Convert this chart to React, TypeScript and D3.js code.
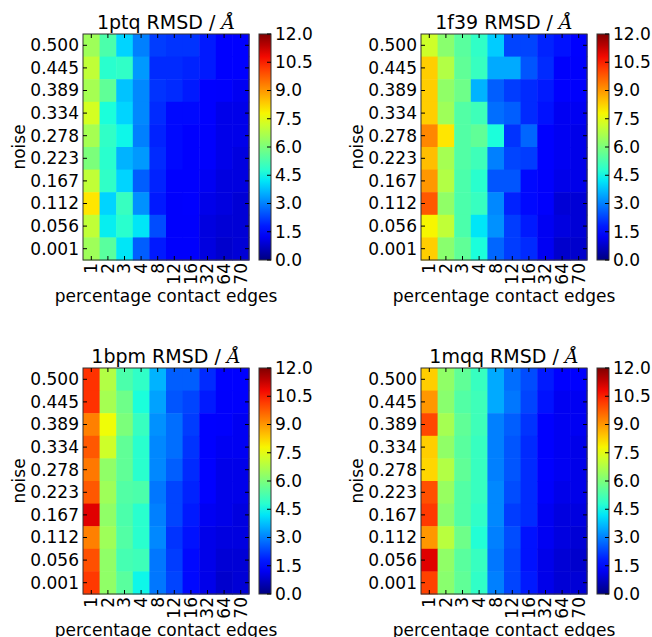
import React from 'react'
import * as d3 from 'd3'

const noiseLabels = ['0.500', '0.445', '0.389', '0.334', '0.278', '0.223', '0.167', '0.112', '0.056', '0.001']
const edgeLabels = ['1', '2', '3', '4', '8', '12', '16', '32', '64', '70']
const colorTicks = [0, 1.5, 3, 4.5, 6, 7.5, 9, 10.5, 12]

// rows run from noise 0.500 (top) down to 0.001
const rmsd1ptq = [
  [6.5, 5.3, 4.0, 3.0, 2.2, 2.1, 2.1, 1.8, 1.5, 1.5],
  [7.0, 4.8, 4.9, 3.3, 2.0, 2.0, 1.9, 1.8, 1.4, 1.4],
  [6.6, 5.6, 3.8, 3.1, 2.1, 2.0, 1.8, 1.4, 1.3, 1.2],
  [7.3, 4.6, 4.0, 3.1, 2.0, 1.6, 1.6, 1.4, 1.1, 1.1],
  [6.6, 4.9, 4.4, 3.0, 1.9, 1.6, 1.5, 1.3, 1.1, 1.1],
  [6.0, 4.8, 3.6, 3.3, 2.0, 1.6, 1.4, 1.3, 1.1, 1.0],
  [7.0, 4.9, 4.0, 2.6, 1.9, 1.5, 1.4, 1.2, 1.0, 1.0],
  [8.0, 4.0, 5.0, 3.2, 1.8, 1.3, 1.4, 1.1, 1.0, 0.9],
  [7.0, 4.3, 4.8, 4.2, 2.4, 1.3, 1.3, 1.0, 0.9, 0.9],
  [6.5, 5.5, 4.2, 2.6, 1.8, 1.3, 1.3, 1.0, 0.8, 0.9],
]

const rmsd1f39 = [
  [7.2, 6.2, 5.5, 4.9, 3.9, 2.3, 2.3, 1.9, 1.7, 1.5],
  [8.3, 6.8, 5.6, 5.0, 3.5, 3.5, 2.5, 2.0, 1.3, 1.3],
  [8.3, 6.3, 5.8, 3.6, 2.6, 2.2, 2.0, 1.8, 1.4, 1.3],
  [8.3, 6.5, 5.4, 5.1, 2.8, 2.6, 2.0, 1.7, 1.2, 1.2],
  [9.2, 8.0, 5.4, 5.6, 4.6, 2.1, 2.7, 1.5, 1.2, 1.1],
  [8.5, 6.6, 5.4, 5.1, 3.0, 2.3, 2.2, 1.5, 1.2, 1.1],
  [9.0, 6.8, 5.3, 4.8, 2.5, 2.5, 1.6, 1.3, 1.1, 1.1],
  [9.8, 6.3, 5.3, 5.0, 3.1, 1.9, 1.6, 1.3, 0.9, 0.9],
  [7.8, 7.0, 5.3, 4.2, 3.2, 2.2, 1.8, 1.2, 1.0, 0.9],
  [8.3, 6.2, 5.6, 4.6, 2.7, 2.2, 2.0, 1.2, 0.8, 0.8],
]

const rmsd1bpm = [
  [10.3, 6.8, 5.3, 4.9, 3.6, 2.6, 2.6, 2.0, 1.5, 1.4],
  [10.3, 6.6, 5.8, 4.6, 3.4, 2.5, 2.3, 1.8, 1.3, 1.3],
  [9.3, 7.7, 6.0, 5.0, 3.2, 2.8, 2.2, 1.5, 1.3, 1.2],
  [9.8, 7.2, 5.6, 4.8, 3.1, 2.8, 2.1, 1.4, 1.2, 1.2],
  [9.4, 6.3, 5.6, 4.8, 3.1, 2.6, 2.0, 1.4, 1.1, 1.1],
  [9.8, 6.5, 5.4, 5.3, 2.9, 2.3, 1.9, 1.4, 1.1, 1.1],
  [11.0, 6.3, 5.3, 4.8, 3.0, 2.3, 1.8, 1.2, 1.1, 1.0],
  [9.3, 6.5, 5.4, 4.8, 3.1, 2.1, 1.7, 1.1, 1.0, 1.0],
  [9.9, 6.3, 5.2, 5.1, 2.9, 2.2, 1.6, 1.1, 0.9, 0.9],
  [10.2, 6.3, 5.5, 4.4, 2.9, 2.3, 1.6, 1.1, 0.8, 0.9],
]

const rmsd1mqq = [
  [8.3, 6.3, 5.6, 5.0, 3.5, 2.8, 2.4, 1.8, 1.4, 1.4],
  [9.0, 6.2, 5.4, 5.1, 3.5, 2.9, 2.3, 1.7, 1.2, 1.2],
  [10.0, 6.6, 5.6, 5.1, 3.0, 2.6, 2.1, 1.5, 1.2, 1.2],
  [8.3, 6.3, 5.5, 5.0, 3.0, 2.5, 2.0, 1.4, 1.2, 1.1],
  [8.2, 6.8, 5.6, 5.0, 3.0, 2.5, 2.0, 1.4, 1.2, 1.1],
  [9.9, 6.4, 5.4, 5.0, 3.1, 2.4, 2.0, 1.3, 1.1, 1.1],
  [10.2, 6.2, 5.4, 4.9, 3.1, 2.2, 2.0, 1.2, 1.0, 1.0],
  [9.0, 6.9, 5.8, 4.7, 3.0, 2.4, 1.7, 1.2, 1.0, 0.9],
  [11.0, 6.3, 5.5, 5.0, 2.9, 2.3, 1.7, 1.1, 0.9, 0.8],
  [10.1, 6.2, 5.6, 4.9, 3.0, 2.3, 1.8, 1.1, 0.9, 0.9],
]

// matplotlib "jet"
const jetR = d3.scaleLinear().domain([0, 0.35, 0.66, 0.89, 1]).range([0, 0, 1, 1, 0.5]).clamp(true)
const jetG = d3.scaleLinear().domain([0, 0.125, 0.375, 0.64, 0.91, 1]).range([0, 0, 1, 1, 0, 0]).clamp(true)
const jetB = d3.scaleLinear().domain([0, 0.11, 0.34, 0.65, 1]).range([0.5, 1, 1, 0, 0]).clamp(true)
const jet = (t: number) => d3.rgb(jetR(t) * 255, jetG(t) * 255, jetB(t) * 255).formatHex()

const font = '"DejaVu Sans", sans-serif'
const W = 166
const H = 226

const Panel = ({ id, data, x, y }: { id: string, data: number[][], x: number, y: number }) => {
  const xs = d3.scaleBand().domain(edgeLabels).range([0, W])
  const ys = d3.scaleBand().domain(noiseLabels).range([0, H])
  const norm = d3.scaleLinear().domain([0, 12]).range([0, 1])
  const cb = d3.scaleLinear().domain([0, 12]).range([H, 0])
  const cbX = 176
  const cbW = 12
  const gradStops = d3.range(0, 1.0001, 0.05)
  const gid = 'grad-' + id

  return (
    <g transform={`translate(${x},${y})`}>
      <defs>
        <linearGradient id={gid} x1="0" y1="1" x2="0" y2="0">
          {gradStops.map(t => <stop key={t} offset={t} stopColor={jet(t)} />)}
        </linearGradient>
      </defs>
      <text x={W / 2} y={-5} textAnchor="middle" fontFamily={font} fontSize={19}>
        {id} RMSD / <tspan fontFamily='"DejaVu Serif", serif' fontStyle="italic">Å</tspan>
      </text>
      {data.map((row, i) => row.map((v, j) => (
        <rect key={i + '-' + j}
          x={xs(edgeLabels[j])} y={ys(noiseLabels[i])}
          width={xs.bandwidth() + 0.5} height={ys.bandwidth() + 0.5}
          fill={jet(norm(v))} />
      )))}
      <rect x={0} y={0} width={W} height={H} fill="none" stroke="#333" strokeWidth={1} />
      {noiseLabels.map(n => {
        const cy = (ys(n) as number) + ys.bandwidth() / 2
        return (
          <g key={n}>
            <line x1={0} x2={4} y1={cy} y2={cy} stroke="#000" />
            <line x1={W - 4} x2={W} y1={cy} y2={cy} stroke="#000" />
            <text x={-4} y={cy} dy="0.35em" textAnchor="end" fontFamily={font} fontSize={17}>{n}</text>
          </g>
        )
      })}
      {edgeLabels.map(e => {
        const cx = (xs(e) as number) + xs.bandwidth() / 2
        return (
          <g key={e}>
            <line x1={cx} x2={cx} y1={0} y2={4} stroke="#000" />
            <line x1={cx} x2={cx} y1={H - 4} y2={H} stroke="#000" />
            <text transform={`translate(${cx},${H + 3}) rotate(-90)`} dy="0.35em" textAnchor="end"
              fontFamily={font} fontSize={17}>{e}</text>
          </g>
        )
      })}
      <text transform={`translate(${-58},${H / 2}) rotate(-90)`} textAnchor="middle"
        fontFamily={font} fontSize={17}>noise</text>
      <text x={W / 2} y={H + 42} textAnchor="middle" fontFamily={font} fontSize={17}>percentage contact edges</text>
      <rect x={cbX} y={0} width={cbW} height={H} fill={`url(#${gid})`} stroke="#333" strokeWidth={1} />
      {colorTicks.map(t => (
        <g key={t}>
          <line x1={cbX + cbW - 4} x2={cbX + cbW} y1={cb(t)} y2={cb(t)} stroke="#000" />
          <text x={cbX + cbW + 4} y={cb(t)} dy="0.35em" fontFamily={font} fontSize={17}>{t.toFixed(1)}</text>
        </g>
      ))}
    </g>
  )
}

export default function App() {
  return (
    <svg width={652} height={637} style={{ position: 'absolute', left: 0, top: 0, background: '#fff' }}>
      <Panel id="1ptq" data={rmsd1ptq} x={83} y={34} />
      <Panel id="1f39" data={rmsd1f39} x={421} y={34} />
      <Panel id="1bpm" data={rmsd1bpm} x={83} y={368} />
      <Panel id="1mqq" data={rmsd1mqq} x={421} y={368} />
    </svg>
  )
}
